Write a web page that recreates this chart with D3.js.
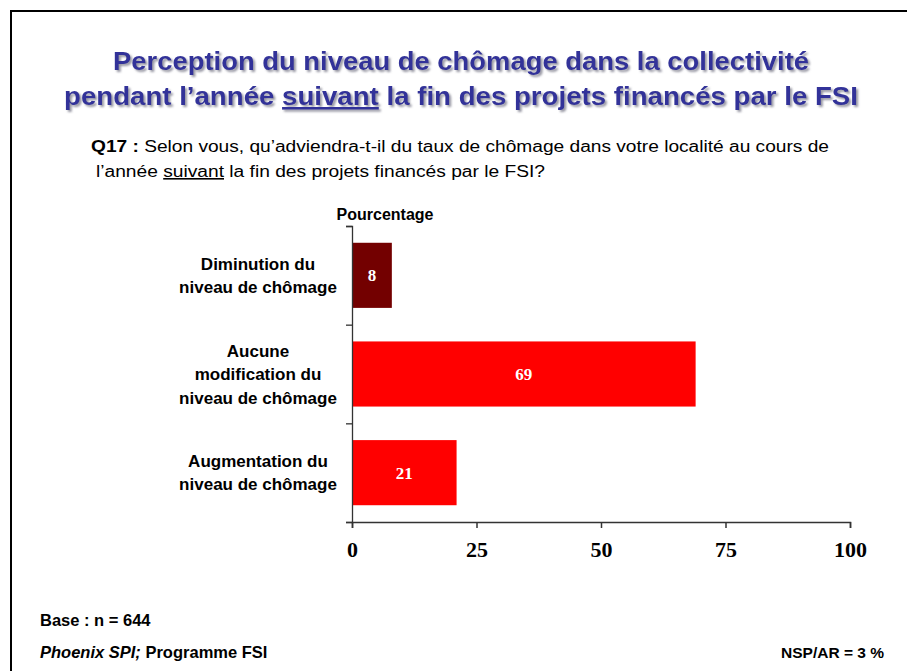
<!DOCTYPE html>
<html>
<head>
<meta charset="utf-8">
<script src="https://cdn.jsdelivr.net/npm/d3@7"></script>
<style>
    body { margin: 0; background: #fff; }
    text { font-family: Arial, "Liberation Sans", sans-serif; }
    .num { font-family: "Times New Roman", "Liberation Serif", serif; font-weight: bold; }
</style>
</head>
<body>
<script>
// Chart data
var categories = ["Diminution du niveau de chômage",
                  "Aucune modification du niveau de chômage",
                  "Augmentation du niveau de chômage"];
var labelLines = [["Diminution du", "niveau de chômage"],
                  ["Aucune", "modification du", "niveau de chômage"],
                  ["Augmentation du", "niveau de chômage"]];
var values = [8, 69, 21];
var barColors = ["#730000", "#ff0000", "#ff0000"];
var xTicks = [0, 25, 50, 75, 100];

var W = 907, H = 671;
var plot = {left: 352, right: 850, top: 226, bottom: 522};

var svg = d3.select("body").append("svg")
    .attr("width", W)
    .attr("height", H);

// soft drop shadow for the title
var shadow = svg.append("defs").append("filter")
    .attr("id", "shadow")
    .attr("x", "-5%").attr("y", "-30%")
    .attr("width", "110%").attr("height", "160%");
shadow.append("feDropShadow")
    .attr("dx", 2).attr("dy", 2)
    .attr("stdDeviation", 0.8)
    .attr("flood-color", "#8c8c99")
    .attr("flood-opacity", 0.9);

// slide frame
svg.append("rect")
    .attr("x", 11).attr("y", 11)
    .attr("width", W + 20).attr("height", H + 20)
    .attr("fill", "none")
    .attr("stroke", "#000")
    .attr("stroke-width", 2);

// title
var titleLines = [
    {parts: [["Perception du niveau de chômage dans la collectivité", false]],
     y: 70, len: 696},
    {parts: [["pendant l\u2019année ", false], ["suivant", true],
             [" la fin des projets financés par le FSI", false]],
     y: 105, len: 794}
];
titleLines.forEach(function (l) {
    var t = svg.append("text")
        .attr("x", 461).attr("y", l.y)
        .attr("text-anchor", "middle")
        .attr("font-size", "26px")
        .attr("font-weight", "bold")
        .attr("fill", "#333399")
        .attr("filter", "url(#shadow)")
        .attr("textLength", l.len)
        .attr("lengthAdjust", "spacingAndGlyphs");
    l.parts.forEach(function (p) {
        t.append("tspan").text(p[0])
            .attr("text-decoration", p[1] ? "underline" : null);
    });
});

// question
var q1 = svg.append("text")
    .attr("x", 91).attr("y", 152)
    .attr("font-size", "16px")
    .attr("textLength", 738)
    .attr("lengthAdjust", "spacingAndGlyphs");
q1.append("tspan").attr("font-weight", "bold").text("Q17 :");
q1.append("tspan").text(" Selon vous, qu\u2019adviendra-t-il du taux de " +
    "chômage dans votre localité au cours de");
var q2 = svg.append("text")
    .attr("x", 96).attr("y", 177)
    .attr("font-size", "16px")
    .attr("textLength", 449)
    .attr("lengthAdjust", "spacingAndGlyphs");
q2.append("tspan").text("l\u2019année ");
q2.append("tspan").attr("text-decoration", "underline").text("suivant");
q2.append("tspan").text(" la fin des projets financés par le FSI?");

// scales
var xScale = d3.scaleLinear().domain([0, 100])
    .range([plot.left, plot.right]);
var yScale = d3.scaleBand().domain(categories)
    .range([plot.top, plot.bottom])
    .paddingInner(0.34).paddingOuter(0.17);
var yTickScale = d3.scaleLinear().domain([0, categories.length])
    .range([plot.top, plot.bottom]);

// bars
svg.selectAll("rect.bar")
    .data(values)
    .enter()
    .append("rect")
    .attr("class", "bar")
    .attr("x", xScale(0))
    .attr("y", function (d, i) { return yScale(categories[i]); })
    .attr("width", function (d) { return xScale(d) - xScale(0); })
    .attr("height", yScale.bandwidth())
    .attr("fill", function (d, i) { return barColors[i]; });

// value labels
svg.selectAll("text.val")
    .data(values)
    .enter()
    .append("text")
    .attr("class", "val num")
    .attr("x", function (d) { return (xScale(0) + xScale(d)) / 2; })
    .attr("y", function (d, i) {
        return yScale(categories[i]) + yScale.bandwidth() / 2 + 6;
    })
    .attr("text-anchor", "middle")
    .attr("font-size", "17px")
    .attr("fill", "#fff")
    .text(function (d) { return d; });

// y axis: ticks at band boundaries
var yAxis = svg.append("g")
    .attr("transform", "translate(" + plot.left + ",0)")
    .call(d3.axisLeft(yTickScale).tickValues([0, 1, 2, 3])
        .tickFormat("").tickSizeOuter(0).tickSize(6));
yAxis.selectAll("path, line").attr("stroke", "#333").attr("stroke-width", 1.3);

// x axis
var xAxis = svg.append("g")
    .attr("transform", "translate(0," + plot.bottom + ")")
    .call(d3.axisBottom(xScale).tickValues(xTicks)
        .tickSizeOuter(0).tickSize(6).tickPadding(13));
xAxis.selectAll("path, line").attr("stroke", "#333").attr("stroke-width", 1.5);
xAxis.selectAll("text")
    .attr("class", "num")
    .attr("font-size", "22px")
    .attr("fill", "#000");

// category labels
labelLines.forEach(function (lines, i) {
    var cy = yScale(categories[i]) + yScale.bandwidth() / 2;
    var t = svg.append("text")
        .attr("text-anchor", "middle")
        .attr("font-size", "17px")
        .attr("font-weight", "bold")
        .attr("fill", "#000");
    lines.forEach(function (s, j) {
        t.append("tspan")
            .attr("x", 258)
            .attr("y", cy + 6 + (j - (lines.length - 1) / 2) * 23.5)
            .text(s);
    });
});

// axis caption
svg.append("text")
    .attr("x", 385).attr("y", 220)
    .attr("text-anchor", "middle")
    .attr("font-size", "16px")
    .attr("font-weight", "bold")
    .text("Pourcentage");

// footer
svg.append("text")
    .attr("x", 40).attr("y", 626)
    .attr("font-size", "16.5px")
    .attr("font-weight", "bold")
    .text("Base : n = 644");
var src = svg.append("text")
    .attr("x", 40).attr("y", 658)
    .attr("font-size", "16.5px")
    .attr("font-weight", "bold");
src.append("tspan").attr("font-style", "italic").text("Phoenix SPI;");
src.append("tspan").text(" Programme FSI");
svg.append("text")
    .attr("x", 884).attr("y", 658)
    .attr("text-anchor", "end")
    .attr("font-size", "15.5px")
    .attr("font-weight", "bold")
    .text("NSP/AR = 3 %");
</script>
</body>
</html>
